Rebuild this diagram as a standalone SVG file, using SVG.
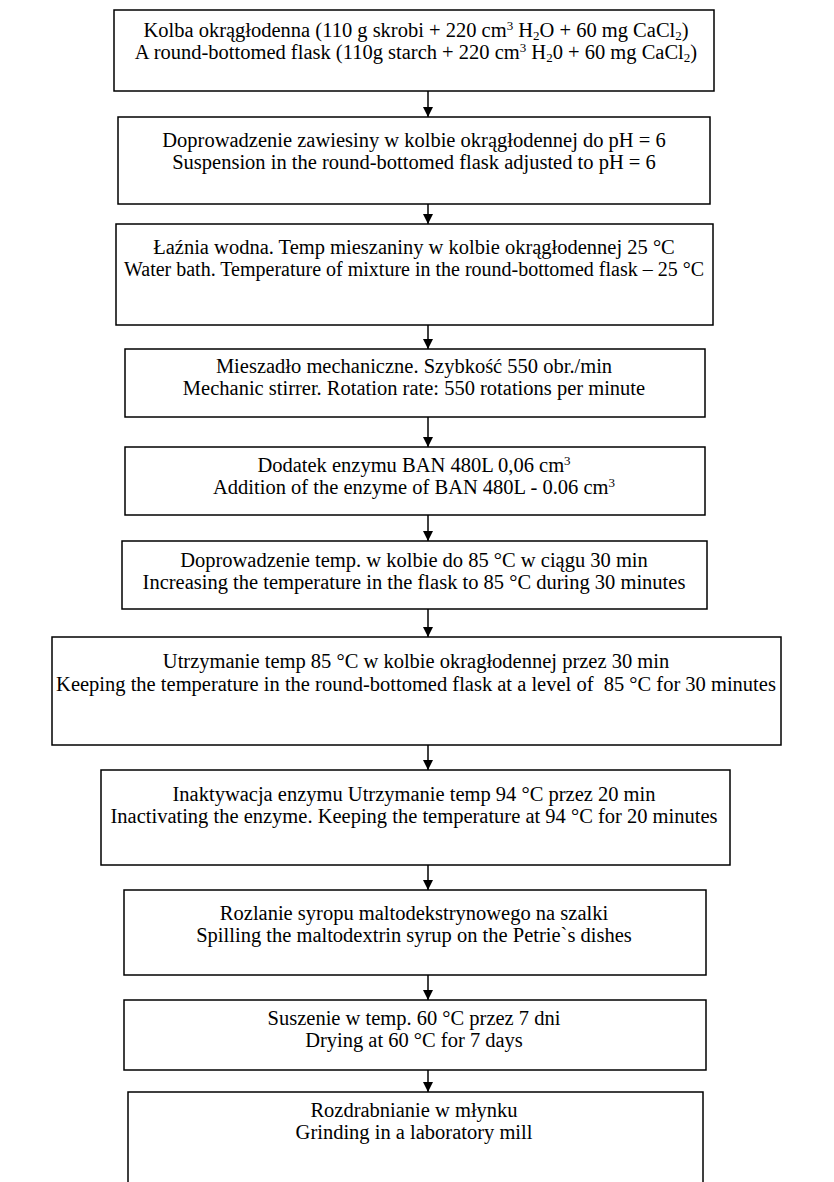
<svg xmlns="http://www.w3.org/2000/svg" width="834" height="1182" viewBox="0 0 834 1182">
<defs>
<marker id="ah" viewBox="0 0 10 10" refX="10" refY="5" markerWidth="10" markerHeight="10" markerUnits="userSpaceOnUse" orient="auto">
<path d="M0,0 L10,5 L0,10 Z" fill="#000"/>
</marker>
<style>
rect.box{fill:#fff;stroke:#000;stroke-width:1.5}
text{font-family:"Liberation Serif","Times New Roman",serif;font-size:20.5px;fill:#000;text-anchor:middle}
text.tight{font-size:20px}
.sup{font-size:13px}
.sub{font-size:13px}
line.conn{stroke:#000;stroke-width:1.5;marker-end:url(#ah)}
</style>
</defs>
<rect width="834" height="1182" fill="#fff"/>
<g id="connectors">
<line class="conn" x1="428" y1="91" x2="428" y2="117"/>
<line class="conn" x1="428" y1="204" x2="428" y2="224"/>
<line class="conn" x1="428" y1="325" x2="428" y2="349"/>
<line class="conn" x1="428" y1="417" x2="428" y2="447"/>
<line class="conn" x1="428" y1="515" x2="428" y2="541"/>
<line class="conn" x1="428" y1="609" x2="428" y2="637"/>
<line class="conn" x1="428" y1="745" x2="428" y2="770"/>
<line class="conn" x1="428" y1="865" x2="428" y2="890"/>
<line class="conn" x1="428" y1="975" x2="428" y2="1000"/>
<line class="conn" x1="428" y1="1070" x2="428" y2="1092"/>
</g>
<g id="n1">
<rect class="box" x="114" y="10" width="600" height="81"/>
<text x="416" y="37">Kolba okrągłodenna (110 g skrobi + 220 cm<tspan class="sup" baseline-shift="7">3</tspan> H<tspan class="sub" baseline-shift="-3">2</tspan>O + 60 mg CaCl<tspan class="sub" baseline-shift="-3">2</tspan>)</text>
<text x="416" y="59">A round-bottomed flask (110g starch + 220 cm<tspan class="sup" baseline-shift="7">3</tspan> H<tspan class="sub" baseline-shift="-3">2</tspan>0 + 60 mg CaCl<tspan class="sub" baseline-shift="-3">2</tspan>)</text>
</g>
<g id="n2">
<rect class="box" x="118" y="117" width="592" height="87"/>
<text x="414" y="147">Doprowadzenie zawiesiny w kolbie okrągłodennej do pH = 6</text>
<text x="414" y="169">Suspension in the round-bottomed flask adjusted to pH = 6</text>
</g>
<g id="n3">
<rect class="box" x="116" y="224" width="597" height="101"/>
<text x="414" y="254">Łaźnia wodna. Temp mieszaniny w kolbie okrągłodennej 25 °C</text>
<text class="tight" x="414" y="276">Water bath. Temperature of mixture in the round-bottomed flask – 25 °C</text>
</g>
<g id="n4">
<rect class="box" x="125" y="349" width="580" height="68"/>
<text x="414" y="373">Mieszadło mechaniczne. Szybkość 550 obr./min</text>
<text x="414" y="395">Mechanic stirrer. Rotation rate: 550 rotations per minute</text>
</g>
<g id="n5">
<rect class="box" x="125" y="447" width="580" height="68"/>
<text x="414" y="472">Dodatek enzymu BAN 480L 0,06 cm<tspan class="sup" baseline-shift="7">3</tspan></text>
<text x="414" y="494">Addition of the enzyme of BAN 480L - 0.06 cm<tspan class="sup" baseline-shift="7">3</tspan></text>
</g>
<g id="n6">
<rect class="box" x="122" y="541" width="585" height="68"/>
<text x="414" y="567">Doprowadzenie temp. w kolbie do 85 °C w ciągu 30 min</text>
<text x="414" y="589">Increasing the temperature in the flask to 85 °C during 30 minutes</text>
</g>
<g id="n7">
<rect class="box" x="52" y="637" width="729" height="108"/>
<text x="416" y="668">Utrzymanie temp 85 °C w kolbie okragłodennej przez 30 min</text>
<text x="416" y="691">Keeping the temperature in the round-bottomed flask at a level of&#160; 85 °C for 30 minutes</text>
</g>
<g id="n8">
<rect class="box" x="101" y="770" width="629" height="95"/>
<text x="414" y="801">Inaktywacja enzymu Utrzymanie temp 94 °C przez 20 min</text>
<text x="414" y="823">Inactivating the enzyme. Keeping the temperature at 94 °C for 20 minutes</text>
</g>
<g id="n9">
<rect class="box" x="124" y="890" width="582" height="85"/>
<text x="414" y="920">Rozlanie syropu maltodekstrynowego na szalki</text>
<text x="414" y="942">Spilling the maltodextrin syrup on the Petrie`s dishes</text>
</g>
<g id="n10">
<rect class="box" x="124" y="1000" width="582" height="70"/>
<text x="414" y="1025">Suszenie w temp. 60 °C przez 7 dni</text>
<text x="414" y="1047">Drying at 60 °C for 7 days</text>
</g>
<g id="n11">
<rect class="box" x="128" y="1092" width="575" height="100"/>
<text x="414" y="1117">Rozdrabnianie w młynku</text>
<text x="414" y="1139">Grinding in a laboratory mill</text>
</g>
</svg>
